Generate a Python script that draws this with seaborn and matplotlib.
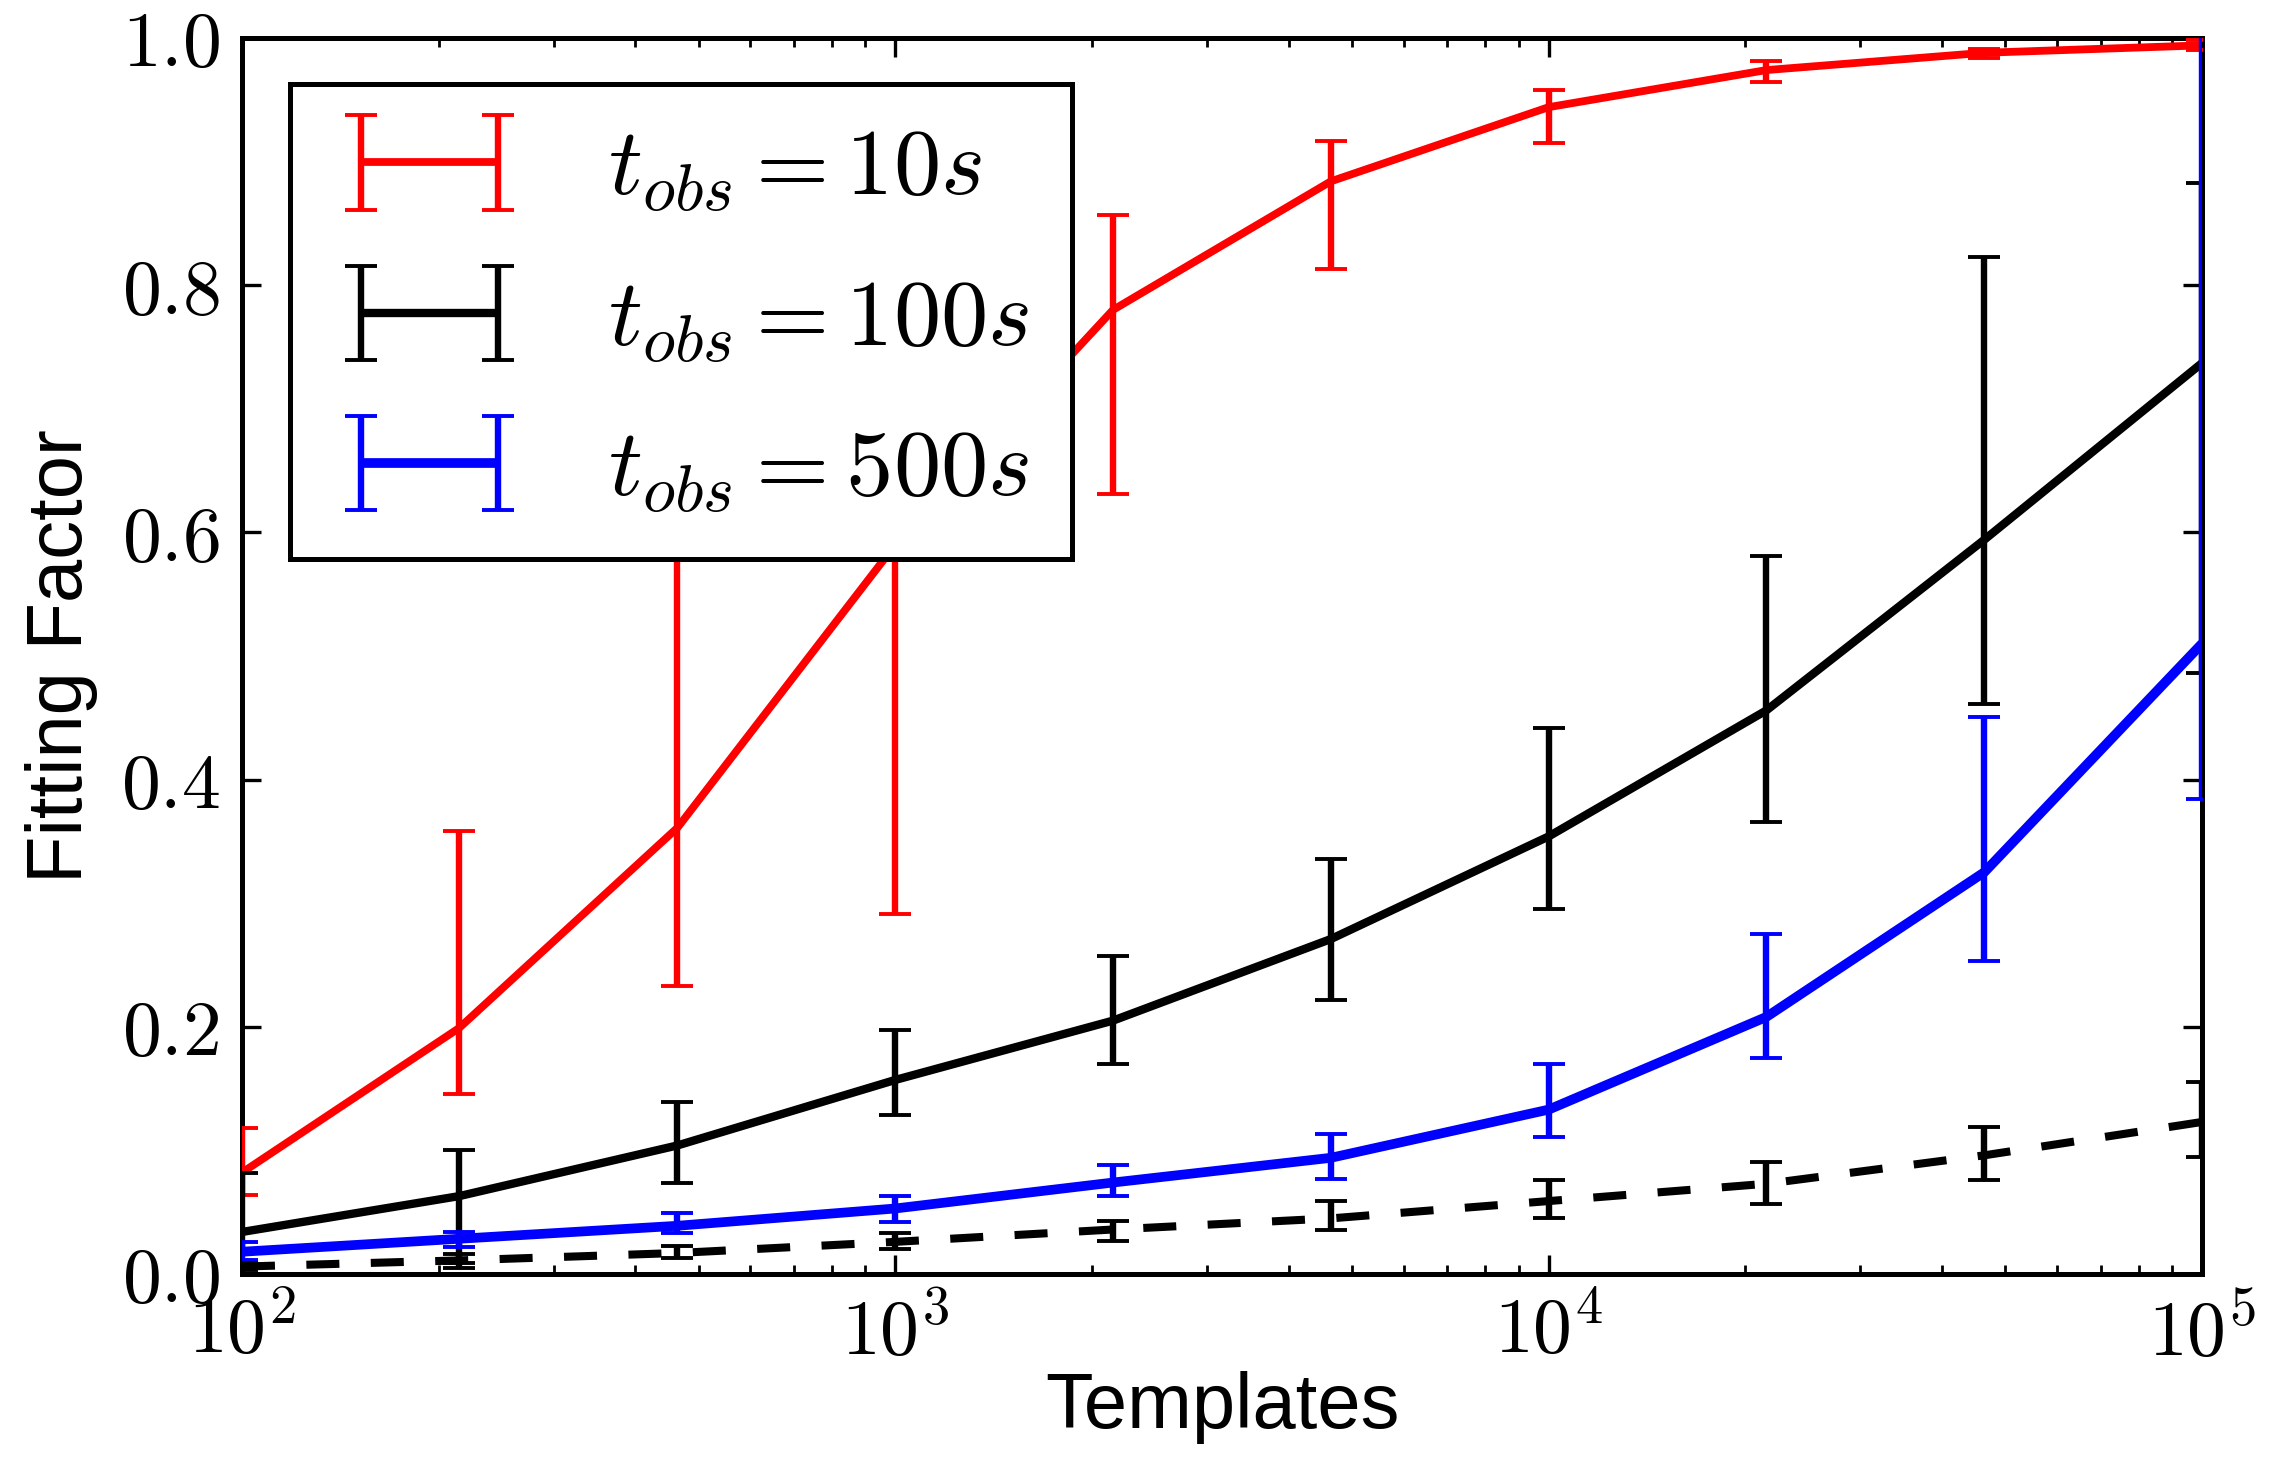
import numpy as np
import pandas as pd
import seaborn as sns
import matplotlib
matplotlib.use("Agg")
import matplotlib.pyplot as plt
from matplotlib.ticker import FuncFormatter, LogLocator, NullFormatter, FixedLocator
from matplotlib.container import ErrorbarContainer

# ---------------- data ----------------
templates = [100, 215, 464, 1000, 2154, 4642, 10000, 21544, 46416, 100000]

ff_10 = [0.082, 0.199, 0.361, 0.590, 0.780, 0.884, 0.944, 0.974, 0.988, 0.994]
lo_10 = [0.064, 0.146, 0.233, 0.291, 0.631, 0.813, 0.915, 0.964, 0.984, 0.990]
hi_10 = [0.118, 0.358, 0.660, 0.780, 0.857, 0.917, 0.958, 0.981, 0.991, 0.998]

ff_100 = [0.034, 0.063, 0.104, 0.157, 0.205, 0.271, 0.354, 0.456, 0.594, 0.737]
lo_100 = [0.020, 0.009, 0.074, 0.129, 0.170, 0.222, 0.295, 0.366, 0.461, 0.486]
hi_100 = [0.082, 0.100, 0.139, 0.197, 0.257, 0.336, 0.442, 0.581, 0.823, 0.883]

ff_500 = [0.018, 0.0285, 0.039, 0.053, 0.074, 0.094, 0.133, 0.208, 0.325, 0.510]
lo_500 = [0.011, 0.022, 0.033, 0.042, 0.063, 0.077, 0.111, 0.175, 0.253, 0.384]
hi_500 = [0.026, 0.034, 0.049, 0.063, 0.088, 0.113, 0.170, 0.275, 0.451, 1.050]

ff_dash = [0.006, 0.011, 0.017, 0.026, 0.036, 0.045, 0.059, 0.073, 0.096, 0.123]
lo_dash = [0.003, 0.005, 0.013, 0.020, 0.027, 0.036, 0.045, 0.057, 0.076, 0.095]
hi_dash = [0.009, 0.016, 0.023, 0.033, 0.043, 0.059, 0.076, 0.091, 0.119, 0.155]

labels = [r"$t_{obs} = 10s$", r"$t_{obs} = 100s$", r"$t_{obs} = 500s$"]
colors = ["#ff0000", "#000000", "#0000ff"]

# ---------------- style ----------------
sns.set_theme(style="ticks")
plt.rcParams["font.family"] = ["Liberation Sans", "DejaVu Sans"]
plt.rcParams["mathtext.fontset"] = "cm"
for k in ["text.color", "axes.labelcolor", "xtick.color", "ytick.color", "axes.edgecolor"]:
    plt.rcParams[k] = "black"

fig = plt.figure(figsize=(11.38, 7.295), dpi=200)
ax = fig.add_axes([0.1063, 0.1268, 0.9675 - 0.1063, 0.974 - 0.1268])

series = [
    (ff_10, lo_10, hi_10, colors[0], "-", labels[0], 2.8),
    (ff_100, lo_100, hi_100, colors[1], "-", labels[1], 3.0),
    (ff_500, lo_500, hi_500, colors[2], "-", labels[2], 3.5),
    (ff_dash, lo_dash, hi_dash, "#000000", "--", None, 2.9),
]

handles = []
for ff, lo, hi, c, ls, lab, lw in series:
    df = pd.DataFrame({"Templates": templates, "FF": ff})
    n_before = len(ax.lines)
    sns.lineplot(data=df, x="Templates", y="FF", color=c, lw=lw, ax=ax,
                 legend=False, zorder=3)
    line = ax.lines[n_before]
    line.set_solid_capstyle("butt")
    if ls == "--":
        line.set_dashes((4.1, 3.9))
        line.set_dash_capstyle("butt")
    ff_a = np.array(ff)
    yerr = np.vstack([ff_a - np.array(lo), np.array(hi) - ff_a])
    cont = ax.errorbar(templates, ff, yerr=yerr, fmt="none", ecolor=c,
                       elinewidth=2.3, capsize=5.8, capthick=1.4, zorder=3)
    if lab is not None:
        h = ErrorbarContainer((line, cont.lines[1], cont.lines[2]),
                              has_xerr=False, has_yerr=True, label=lab)
        handles.append(h)

ax.set_xscale("log")
ax.set_xlim(100, 100000)
ax.set_ylim(0, 1.0)
ax.set_yticks([0.0, 0.2, 0.4, 0.6, 0.8, 1.0])
ax.yaxis.set_major_formatter(FuncFormatter(lambda v, p: r"$%.1f$" % v))
ax.xaxis.set_major_locator(FixedLocator([1e2, 1e3, 1e4, 1e5]))
ax.xaxis.set_major_formatter(FuncFormatter(lambda v, p: r"$10^{%d}$" % int(round(np.log10(v)))))
ax.xaxis.set_minor_locator(LogLocator(base=10, subs=np.arange(2, 10), numticks=20))
ax.xaxis.set_minor_formatter(NullFormatter())

ax.tick_params(axis="both", which="major", direction="in", length=6.8, width=1.2,
               top=True, right=True, labelsize=28, pad=8, color="black",
               labelcolor="black")
ax.tick_params(axis="x", which="minor", direction="in", length=3.2, width=1.0,
               top=True, bottom=True, color="black")
for s in ax.spines.values():
    s.set_linewidth(1.8)
    s.set_color("black")
    s.set_visible(True)

ax.set_xlabel("Templates", fontsize=28, labelpad=0)
ax.set_ylabel("Fitting Factor", fontsize=28, labelpad=8)
ax.grid(False)

leg = ax.legend(handles=handles, loc="upper left", bbox_to_anchor=(0.0245, 0.9628),
                numpoints=2, fontsize=34, frameon=True, fancybox=False,
                handlelength=2.05, handletextpad=0.87, borderpad=0.45,
                labelspacing=0.65, borderaxespad=0.0)
leg.get_frame().set_edgecolor("black")
leg.get_frame().set_linewidth(1.8)
leg.get_frame().set_alpha(1.0)
leg.set_zorder(10)

fig.savefig("out.png", dpi=200, facecolor="white")
